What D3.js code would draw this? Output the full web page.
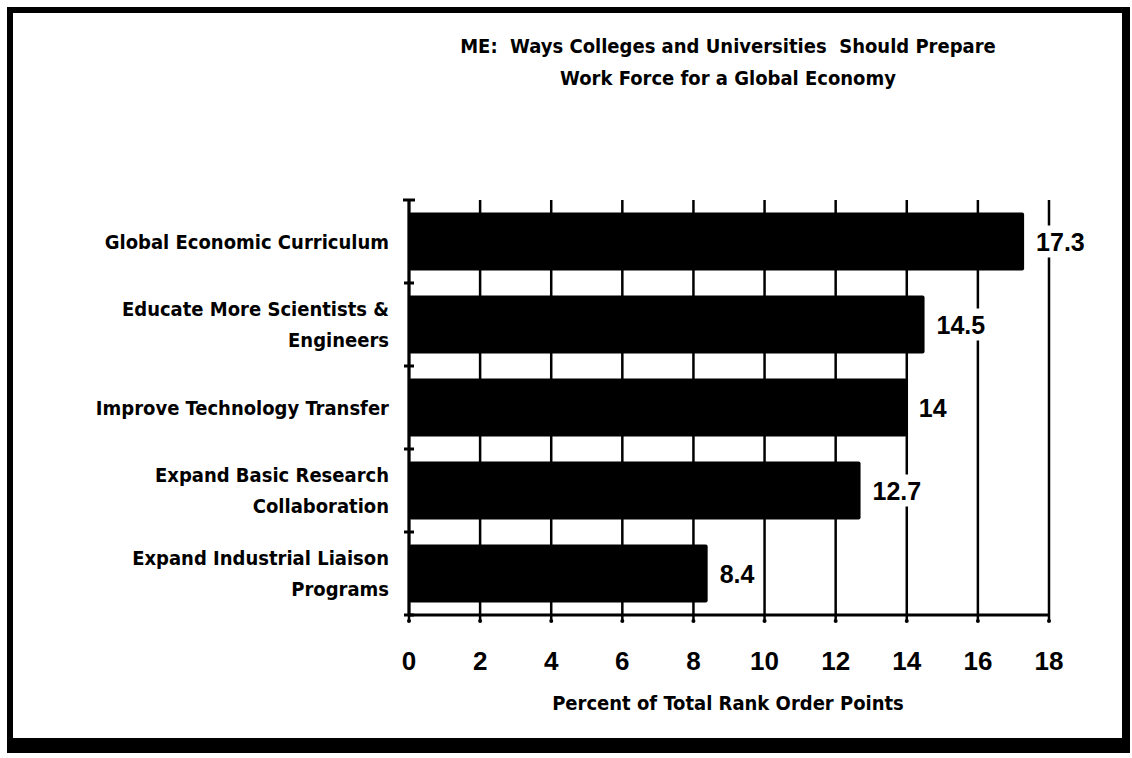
<!DOCTYPE html>
<html>
<head>
<meta charset="utf-8">
<script src="https://cdn.jsdelivr.net/npm/d3@7"></script>
<style>
  body { margin: 0; background: #fff; }
  text { font-family: 'DejaVu Sans Condensed', 'DejaVu Sans', sans-serif; font-weight: bold; fill: #000; }
  .num { font-family: 'Liberation Sans Narrow', 'Liberation Sans', sans-serif; font-weight: bold; }
</style>
</head>
<body>
<svg id="chart"></svg>
<script>
// chart data
const titleLines = ['ME:  Ways Colleges and Universities  Should Prepare', 'Work Force for a Global Economy']
const categories = [
  ['Global Economic Curriculum'],
  ['Educate More Scientists &', 'Engineers'],
  ['Improve Technology Transfer'],
  ['Expand Basic Research', 'Collaboration'],
  ['Expand Industrial Liaison', 'Programs'],
]
const values = [17.3, 14.5, 14, 12.7, 8.4]
const xTicks = [0, 2, 4, 6, 8, 10, 12, 14, 16, 18]
const xTitle = 'Percent of Total Rank Order Points'

const width = 1132
const height = 758

const svg = d3.select('#chart').attr('width', width).attr('height', height)

// frame
svg.append('rect').attr('x', 7).attr('y', 7).attr('width', 1123).attr('height', 746).attr('fill', '#000')
svg.append('rect').attr('x', 13).attr('y', 13).attr('width', 1109).attr('height', 725).attr('fill', '#fff')

const names = categories.map(d => d.join(' '))

const x = d3.scaleLinear().domain([0, 18]).range([409, 1049])
const y = d3.scaleBand().domain(names).range([200, 615]).paddingInner(0.3).paddingOuter(0.15)

const plotTop = y.range()[0]
const plotBottom = y.range()[1]

// title
svg.append('text')
  .attr('x', 728)
  .attr('y', 53)
  .attr('text-anchor', 'middle')
  .attr('font-size', 20)
  .style('white-space', 'pre')
  .selectAll('tspan')
  .data(titleLines)
  .enter()
  .append('tspan')
  .attr('x', 728)
  .attr('dy', (d, i) => (i ? 32 : 0))
  .text(d => d)

// grid lines at ticks
svg.append('g')
  .selectAll('line')
  .data(xTicks)
  .enter()
  .append('line')
  .attr('x1', d => x(d))
  .attr('x2', d => x(d))
  .attr('y1', plotTop)
  .attr('y2', plotBottom + 6)
  .attr('stroke', '#000')
  .attr('stroke-width', 2.5)

// little dots on the tick ends
svg.append('g')
  .selectAll('circle')
  .data(xTicks)
  .enter()
  .append('circle')
  .attr('cx', d => x(d))
  .attr('cy', plotBottom + 6)
  .attr('r', 2)
  .attr('fill', '#000')

// bars
svg.append('g')
  .selectAll('rect')
  .data(values)
  .enter()
  .append('rect')
  .attr('x', x(0))
  .attr('y', (d, i) => y(names[i]))
  .attr('width', d => x(d) - x(0))
  .attr('height', y.bandwidth())
  .attr('rx', 2)
  .attr('fill', '#000')

// axes
svg.append('line')
  .attr('x1', x(0)).attr('x2', x(18))
  .attr('y1', plotBottom).attr('y2', plotBottom)
  .attr('stroke', '#000').attr('stroke-width', 3)
svg.append('line')
  .attr('x1', x(0)).attr('x2', x(0))
  .attr('y1', plotTop).attr('y2', plotBottom)
  .attr('stroke', '#000').attr('stroke-width', 3)
svg.append('line')
  .attr('x1', x(0) - 6).attr('x2', x(0) + 6)
  .attr('y1', plotTop).attr('y2', plotTop)
  .attr('stroke', '#000').attr('stroke-width', 3)

// y ticks at band boundaries
const bounds = names.slice(1).map(n => y(n) - (y.step() - y.bandwidth()) / 2)
svg.append('g')
  .selectAll('line')
  .data(bounds.concat([plotBottom]))
  .enter()
  .append('line')
  .attr('x1', x(0) - 5)
  .attr('x2', x(0) + 5)
  .attr('y1', d => d)
  .attr('y2', d => d)
  .attr('stroke', '#000')
  .attr('stroke-width', 3)

// category labels
const lineH = 31
categories.forEach((lines, i) => {
  const cy = y(names[i]) + y.bandwidth() / 2
  const t = svg.append('text')
    .attr('text-anchor', 'end')
    .attr('font-size', 20)
    .attr('y', cy - ((lines.length - 1) * lineH) / 2 + 7)
  lines.forEach((l, j) => {
    t.append('tspan').attr('x', 389).attr('dy', j ? lineH : 0).text(l)
  })
})

// value labels with white backing
values.forEach((v, i) => {
  const cy = y(names[i]) + y.bandwidth() / 2
  const g = svg.append('g')
  const t = g.append('text')
    .attr('class', 'num')
    .attr('x', x(v) + 12)
    .attr('y', cy + 9)
    .attr('font-size', 25)
    .text(v)
  const b = t.node().getBBox()
  g.insert('rect', 'text')
    .attr('x', b.x - 3)
    .attr('y', b.y - 2)
    .attr('width', b.width + 6)
    .attr('height', b.height + 4)
    .attr('fill', '#fff')
})

// x tick labels
svg.append('g')
  .selectAll('text')
  .data(xTicks)
  .enter()
  .append('text')
  .attr('class', 'num')
  .attr('x', d => x(d))
  .attr('y', 670)
  .attr('text-anchor', 'middle')
  .attr('font-size', 26)
  .text(d => d)

// x title
svg.append('text')
  .attr('x', 728)
  .attr('y', 710)
  .attr('text-anchor', 'middle')
  .attr('font-size', 20)
  .text(xTitle)
</script>
</body>
</html>
